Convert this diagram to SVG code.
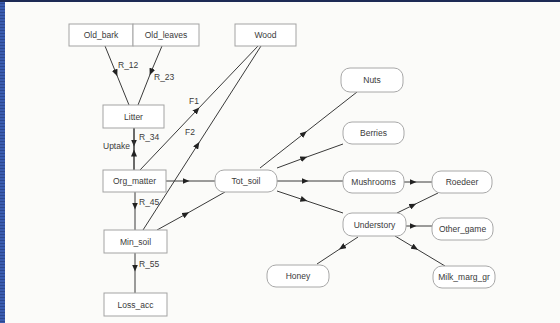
<svg xmlns="http://www.w3.org/2000/svg" width="560" height="323" viewBox="0 0 560 323">
  <defs>
    <marker id="arrow" viewBox="0 0 7 6" refX="3.5" refY="3" markerWidth="7" markerHeight="6" markerUnits="userSpaceOnUse" orient="auto">
      <path d="M0,0 L7,3 L0,6 z" fill="#222"/>
    </marker>
    <pattern id="stripes" width="6" height="3" patternUnits="userSpaceOnUse">
      <rect width="6" height="3" fill="#3a5cb0"/>
      <rect width="6" height="1" fill="#2c4890"/>
    </pattern>
  </defs>
  <style>
    .box { fill: #ffffff; stroke: #a3a3a3; stroke-width: 1; }
    .rbox { fill: #ffffff; stroke: #a8a8a8; stroke-width: 1; }
    .lbl { font-family: "Liberation Sans", Arial, sans-serif; font-size: 8.5px; fill: #3a3a3a; text-anchor: middle; dominant-baseline: central; }
    .elbl { font-family: "Liberation Sans", Arial, sans-serif; font-size: 8.5px; fill: #3a3a3a; }
    .edge { fill: none; stroke: #3a3a3a; stroke-width: 1; marker-mid: url(#arrow); }
  </style>

  <!-- page background and frame strips -->
  <rect x="0" y="0" width="560" height="323" fill="#fbfbf9"/>
  <rect x="0" y="0" width="5" height="323" fill="url(#stripes)"/>
  <rect x="0" y="0" width="560" height="2" fill="#1d2a55"/>

  <!-- connectors -->
  <g id="connectors">
    <path class="edge" d="M105,46 L116,73 L129,105"/>
    <path class="edge" d="M162,46 L151,72 L138,105"/>
    <path class="edge" d="M134,128 L134,143 L134,170"/>
    <path class="edge" d="M134,170 L134,153 L134,128"/>
    <path class="edge" d="M140,170 L197,110 L258,46"/>
    <path class="edge" d="M143,230 L197.5,145 L261,46"/>
    <path class="edge" d="M166,181 L186,181 L215,181"/>
    <path class="edge" d="M157,230 L186,214 L225,192"/>
    <path class="edge" d="M135,192 L135,206 L135,230"/>
    <path class="edge" d="M135,253 L135,268 L135,293"/>
    <path class="edge" d="M260,168 L304,133.5 L357,92"/>
    <path class="edge" d="M277,168 L304,158 L343,144"/>
    <path class="edge" d="M277,181 L305,181 L343,181"/>
    <path class="edge" d="M277,191 L304,200 L343,213"/>
    <path class="edge" d="M404,182 L413,182 L432,182"/>
    <path class="edge" d="M397,213 L413,205.2 L438,193"/>
    <path class="edge" d="M406,226 L413,226 L432,226"/>
    <path class="edge" d="M395,236 L415,248 L445,266"/>
    <path class="edge" d="M358,237 L342,247.5 L317,264"/>

    <text class="elbl" x="118" y="68">R_12</text>
    <text class="elbl" x="154" y="80">R_23</text>
    <text class="elbl" x="189" y="104">F1</text>
    <text class="elbl" x="185" y="135">F2</text>
    <text class="elbl" x="139" y="140">R_34</text>
    <text class="elbl" x="103" y="149">Uptake</text>
    <text class="elbl" x="139" y="205">R_45</text>
    <text class="elbl" x="139" y="267">R_55</text>
  </g>

  <!-- rectangular stock nodes -->
  <g id="Old_bark"><rect class="box" x="69" y="24" width="64" height="22"/><text class="lbl" x="101" y="35">Old_bark</text></g>
  <g id="Old_leaves"><rect class="box" x="133" y="24" width="66" height="22"/><text class="lbl" x="166" y="35">Old_leaves</text></g>
  <g id="Wood"><rect class="box" x="235" y="24" width="61" height="22"/><text class="lbl" x="265.5" y="35">Wood</text></g>
  <g id="Litter"><rect class="box" x="103" y="105" width="61" height="23"/><text class="lbl" x="133.5" y="116.5">Litter</text></g>
  <g id="Org_matter"><rect class="box" x="103" y="170" width="63" height="22"/><text class="lbl" x="134.5" y="181">Org_matter</text></g>
  <g id="Min_soil"><rect class="box" x="104" y="230" width="63" height="23"/><text class="lbl" x="135.5" y="241.5">Min_soil</text></g>
  <g id="Loss_acc"><rect class="box" x="104" y="293" width="63" height="23"/><text class="lbl" x="135.5" y="304.5">Loss_acc</text></g>

  <!-- rounded indicator nodes -->
  <g id="Tot_soil"><rect class="rbox" x="215" y="170" width="62" height="22" rx="9"/><text class="lbl" x="246" y="181">Tot_soil</text></g>
  <g id="Nuts"><rect class="rbox" x="341" y="68" width="62" height="24" rx="9"/><text class="lbl" x="372" y="80">Nuts</text></g>
  <g id="Berries"><rect class="rbox" x="343" y="122" width="61" height="22" rx="9"/><text class="lbl" x="373.5" y="133">Berries</text></g>
  <g id="Mushrooms"><rect class="rbox" x="343" y="171" width="61" height="22" rx="9"/><text class="lbl" x="373.5" y="182">Mushrooms</text></g>
  <g id="Roedeer"><rect class="rbox" x="432" y="171" width="60" height="22" rx="9"/><text class="lbl" x="462" y="182">Roedeer</text></g>
  <g id="Understory"><rect class="rbox" x="343" y="213" width="63" height="23" rx="9"/><text class="lbl" x="374.5" y="224.5">Understory</text></g>
  <g id="Other_game"><rect class="rbox" x="432" y="218" width="61" height="22" rx="9"/><text class="lbl" x="462.5" y="229">Other_game</text></g>
  <g id="Honey"><rect class="rbox" x="267" y="265" width="62" height="22" rx="9"/><text class="lbl" x="298" y="276">Honey</text></g>
  <g id="Milk_marg_gr"><rect class="rbox" x="433" y="266" width="62" height="22" rx="9"/><text class="lbl" x="464" y="277">Milk_marg_gr</text></g>
</svg>
